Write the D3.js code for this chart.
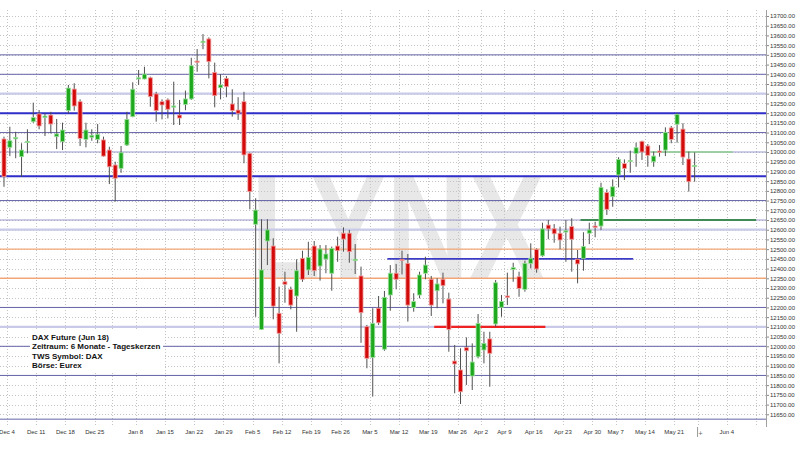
<!DOCTYPE html>
<html>
<head>
<meta charset="utf-8">
<script src="https://cdn.jsdelivr.net/npm/d3@7"></script>
<style>
  body { margin: 0; background: #fff; }
  svg { display: block; font-family: "Liberation Sans", Arial, sans-serif; }
</style>
</head>
<body>
<svg id="chart" width="800" height="450"></svg>
<script>
// DAX Future (Jun 18), daily candles Dec 1 2017 - May 25 2018
const opens = [13067,13024,13068,12976,13051,13156,13196,13177,13190,13079,13053,13213,13324,13259,13065,13076,13065,13062,13010,12933,
  12916,13036,13182,13377,13376,13382,13299,13259,13268,13232,13190,13245,13273,13468,13563,13582,13410,13331,13379,13247,
  13216,13259,12993,12628,12087,12542,12516,12170,12332,12293,12259,12453,12393,12516,12413,12449,12376,12516,12582,12582,
  12441,12362,12101,11943,12196,11985,12264,12376,12448,12427,12199,12264,12376,12345,12286,12345,12243,11924,11878,11993,
  11847,11946,11981,12038,12115,12201,12259,12396,12358,12293,12427,12499,12466,12624,12605,12582,12588,12616,12448,12453,
  12582,12619,12619,12791,12770,12882,12940,12952,12993,13055,13031,12950,13005,13010,13124,13143,13118,12964,12926];
const highs = [13079,13130,13104,13045,13117,13254,13216,13199,13207,13170,13151,13345,13354,13271,13151,13117,13144,13079,13027,12950,
  13031,13207,13359,13422,13439,13388,13310,13271,13276,13362,13268,13316,13485,13530,13607,13590,13460,13401,13391,13323,
  13282,13310,12996,12762,12654,12654,12556,12307,12384,12307,12448,12492,12538,12542,12521,12521,12513,12564,12612,12599,
  12526,12410,12110,12196,12259,12285,12418,12424,12492,12475,12273,12384,12461,12362,12350,12379,12276,12007,11990,12046,
  12015,12166,12075,12075,12341,12264,12379,12430,12384,12441,12530,12504,12636,12650,12629,12616,12650,12659,12496,12587,
  12636,12641,12842,12808,12859,12973,12962,13007,13048,13058,13041,13002,13036,13127,13134,13202,13148,13002,12998];
const lows = [12821,12979,12968,12873,12993,13150,13117,13082,13096,13015,13010,13199,13213,13031,13024,13058,13045,12976,12835,12745,
  12893,13031,13179,13345,13374,13233,13156,13168,13173,13139,13139,13215,13268,13413,13529,13379,13230,13271,13282,13182,
  13165,12942,12705,12152,12084,12418,12139,11912,12224,12190,12075,12332,12367,12362,12338,12376,12286,12435,12487,12430,
  12372,12018,11887,11741,12110,11977,12183,12293,12370,12127,12178,12247,12345,12156,12196,12221,11972,11758,11703,11801,
  11775,11938,11912,11792,12101,12152,12212,12332,12255,12281,12401,12379,12461,12551,12533,12499,12435,12384,12324,12389,
  12526,12561,12599,12676,12718,12818,12856,12893,12924,12959,12924,12924,12976,12979,13045,13048,12933,12796,12847];
const closes = [12873,13058,13075,13010,13055,13177,13134,13185,13144,13093,13113,13329,13237,13070,13113,13086,13091,12979,12924,12865,
  12996,13168,13323,13382,13401,13285,13213,13242,13220,13237,13175,13273,13444,13463,13570,13465,13290,13345,13336,13213,
  13199,12985,12796,12701,12393,12599,12207,12067,12319,12212,12389,12345,12458,12389,12501,12475,12504,12492,12552,12487,
  12448,12173,11938,12118,12121,12252,12376,12345,12441,12212,12230,12367,12418,12212,12321,12312,12087,11909,11766,11977,
  11919,12118,12015,11964,12327,12230,12252,12405,12298,12427,12453,12398,12604,12604,12579,12547,12595,12551,12424,12513,
  12599,12612,12818,12705,12821,12962,12916,12957,13022,13000,12983,12979,12998,13101,13065,13194,12974,12847,12931];

// trading calendar (exchange holidays left out), runs past the last candle
const firstDay = '2017-12-01';
const lastDay = '2018-06-12';
const holidays = ['2017-12-25', '2017-12-26', '2018-01-01', '2018-03-30', '2018-04-02', '2018-05-01', '2018-05-21'];
const tickLabels = ['Dec 4', 'Dec 11', 'Dec 18', 'Dec 25', 'Jan 8', 'Jan 15', 'Jan 22', 'Jan 29', 'Feb 5', 'Feb 12',
  'Feb 19', 'Feb 26', 'Mar 5', 'Mar 12', 'Mar 19', 'Mar 26', 'Apr 2', 'Apr 9', 'Apr 16', 'Apr 23', 'Apr 30',
  'May 7', 'May 14', 'May 21', 'Jun 4'];

// drawn support / resistance levels
const navyLevels = [13500, 13400, 13100, 12750, 12200, 12000, 11850, 11625];
const boldLevels = [13200, 12875];
const paleLevels = [13300, 12600, 12100];
const softLevels = [13000, 12650];
const orangeLevels = [12500, 12350];
const blueSegment = { level: 12450, from: '2018-03-08', to: '2018-05-09' };
const redSegment = { level: 12100, from: '2018-03-20', to: '2018-04-17' };
const greenSegment = { level: 12650, from: '2018-04-26', to: '2018-06-08' };
const limeSegment = { level: 13000, from: '2018-05-15', to: '2018-06-04' };

const legendLines = ['DAX Future (Jun 18)', 'Zeitraum: 6 Monate - Tageskerzen', 'TWS Symbol: DAX', 'Börse: Eurex'];

const parse = d3.timeParse('%Y-%m-%d');
const fmt = d3.timeFormat('%Y-%m-%d');
const weekFmt = d3.timeFormat('%b %-d');

let days = d3.timeDay
  .range(parse(firstDay), d3.timeDay.offset(parse(lastDay), 1))
  .filter(d => d.getDay() !== 0 && d.getDay() !== 6 && holidays.indexOf(fmt(d)) < 0);

let candles = opens.map((o, i) => ({
  date: fmt(days[i]),
  open: o,
  high: highs[i],
  low: lows[i],
  close: closes[i]
}));

const plotLeft = 1.07,
  plotRight = 766,
  plotTop = 10,
  plotBottom = 427,
  step = 5.853;

let svg = d3.select('#chart');

let xScale = d3
  .scaleBand()
  .domain(days.map(fmt))
  .range([plotLeft, plotLeft + days.length * step]);
let bw = xScale.bandwidth();

let yScale = d3
  .scaleLinear()
  .domain([11650, 13700])
  .range([414.3, 16]);

svg
  .append('defs')
  .append('clipPath')
  .attr('id', 'plot')
  .append('rect')
  .attr('x', 0)
  .attr('y', plotTop)
  .attr('width', plotRight)
  .attr('height', plotBottom - plotTop);

let plot = svg.append('g').attr('clip-path', 'url(#plot)');

// watermark
plot
  .append('text')
  .attr('x', 251)
  .attr('y', 279)
  .attr('font-size', 150)
  .attr('font-weight', 'bold')
  .attr('fill', '#e8e8e8')
  .attr('textLength', 294)
  .attr('lengthAdjust', 'spacingAndGlyphs')
  .text('LYNX');

// dotted grid
plot
  .selectAll('.hgrid')
  .data(d3.range(11650, 13701, 50))
  .enter()
  .append('line')
  .attr('x1', 0)
  .attr('x2', plotRight)
  .attr('y1', d => Math.round(yScale(d)) + 0.5)
  .attr('y2', d => Math.round(yScale(d)) + 0.5)
  .attr('stroke', '#c4c4c4')
  .attr('stroke-dasharray', '1,2');

let weekStarts = days.filter(
  (d, i) => i > 0 && +d3.timeMonday.floor(d) !== +d3.timeMonday.floor(days[i - 1])
);

plot
  .selectAll('.vgrid')
  .data(weekStarts)
  .enter()
  .append('line')
  .attr('x1', d => Math.round(xScale(fmt(d))) + 0.5)
  .attr('x2', d => Math.round(xScale(fmt(d))) + 0.5)
  .attr('y1', plotTop)
  .attr('y2', plotBottom)
  .attr('stroke', '#c4c4c4')
  .attr('stroke-dasharray', '1,2');

// level lines
function levels(list, color, width) {
  plot
    .append('g')
    .selectAll('line')
    .data(list)
    .enter()
    .append('line')
    .attr('x1', 0)
    .attr('x2', plotRight)
    .attr('y1', d => yScale(d))
    .attr('y2', d => yScale(d))
    .attr('stroke', color)
    .attr('stroke-width', width);
}
levels(paleLevels, '#c9c9e8', 2.2);
levels(softLevels, '#9a9acc', 1.2);
levels(navyLevels, '#6464a8', 1);
levels(orangeLevels, '#f2a676', 1.4);
levels(boldLevels, '#2e2ec8', 2);

function segment(s, color, width) {
  plot
    .append('line')
    .attr('x1', xScale(s.from))
    .attr('x2', xScale(s.to) + bw)
    .attr('y1', yScale(s.level))
    .attr('y2', yScale(s.level))
    .attr('stroke', color)
    .attr('stroke-width', width);
}
segment(blueSegment, '#3c3cc4', 1.6);
segment(redSegment, '#ee2222', 2.4);
segment(greenSegment, '#3f8a55', 2.2);
segment(limeSegment, '#8fd18f', 1.4);

// legend box
let legend = svg.append('g');
legend
  .append('rect')
  .attr('x', 30)
  .attr('y', 331)
  .attr('width', 133)
  .attr('height', 41)
  .attr('fill', '#fff');
legend
  .selectAll('text')
  .data(legendLines)
  .enter()
  .append('text')
  .attr('x', 32)
  .attr('y', (d, i) => 339.5 + i * 9.5)
  .attr('font-size', 8)
  .attr('font-weight', 'bold')
  .attr('fill', '#111')
  .text(d => d);

// candles
let candle = plot
  .append('g')
  .selectAll('g')
  .data(candles)
  .enter()
  .append('g');

candle
  .append('line')
  .attr('x1', d => xScale(d.date) + bw / 2)
  .attr('x2', d => xScale(d.date) + bw / 2)
  .attr('y1', d => yScale(d.high))
  .attr('y2', d => yScale(d.low))
  .attr('stroke', '#505050')
  .attr('stroke-width', 1);

candle
  .append('rect')
  .attr('x', d => xScale(d.date) + bw / 2 - 2)
  .attr('width', 4)
  .attr('y', d => yScale(Math.max(d.open, d.close)))
  .attr('height', d => Math.max(1.2, Math.abs(yScale(d.open) - yScale(d.close))))
  .attr('fill', d => (d.close >= d.open ? '#1ea81e' : '#d20a0a'))
  .attr('stroke', d => (d.close >= d.open ? '#9be09b' : '#f2a0a0'))
  .attr('stroke-width', 0.8);

// axes
let yAxis = svg
  .append('g')
  .attr('transform', 'translate(' + plotRight + ',0)')
  .call(
    d3
      .axisRight(yScale)
      .tickValues(d3.range(11650, 13701, 50))
      .tickFormat(d3.format('.2f'))
      .tickSize(3)
      .tickPadding(1)
  );
yAxis.select('.domain').remove();
yAxis.selectAll('line').attr('stroke', '#888');
yAxis.selectAll('text').attr('font-size', 6).attr('fill', '#333').attr('font-family', '"Liberation Sans", Arial, sans-serif');

svg
  .append('line')
  .attr('x1', plotRight + 0.5)
  .attr('x2', plotRight + 0.5)
  .attr('y1', plotTop)
  .attr('y2', plotBottom)
  .attr('stroke', '#a0a0a0');

svg
  .append('g')
  .selectAll('text')
  .data(weekStarts.filter(d => tickLabels.indexOf(weekFmt(d3.timeMonday.floor(d))) >= 0))
  .enter()
  .append('text')
  .attr('x', d => xScale(fmt(d)))
  .attr('y', 434)
  .attr('text-anchor', 'middle')
  .attr('font-size', 6)
  .attr('fill', '#333')
  .text(d => weekFmt(d3.timeMonday.floor(d)));

// marker for the current bar
let nowX = xScale(candles[candles.length - 1].date) + bw;
svg
  .append('line')
  .attr('x1', nowX)
  .attr('x2', nowX)
  .attr('y1', plotBottom)
  .attr('y2', 437)
  .attr('stroke', '#999');
svg
  .append('text')
  .attr('x', nowX + 3)
  .attr('y', 436)
  .attr('text-anchor', 'middle')
  .attr('font-size', 7)
  .attr('fill', '#666')
  .text('+');
</script>
</body>
</html>
